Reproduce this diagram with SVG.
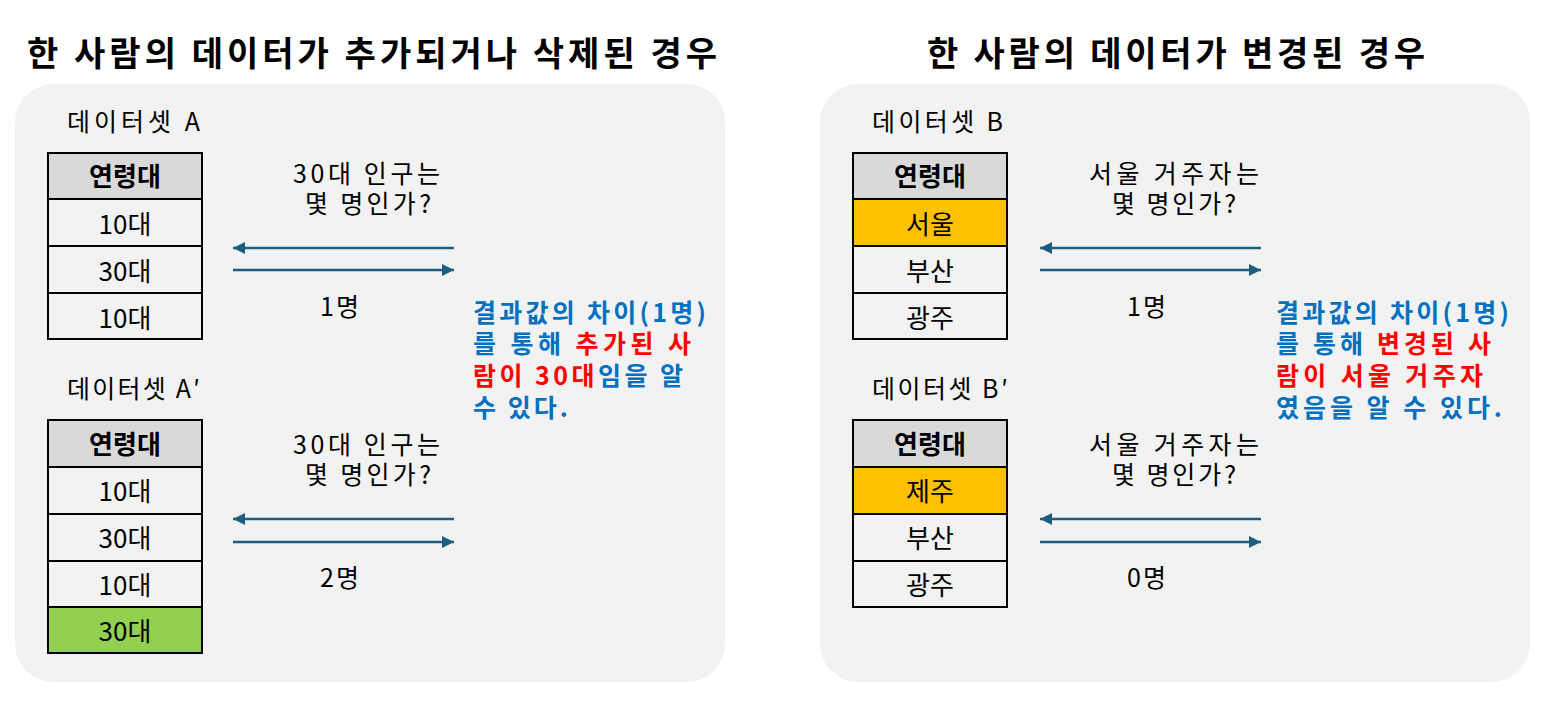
<svg xmlns="http://www.w3.org/2000/svg" width="1545" height="703" viewBox="0 0 1545 703">
<style>
text{font-family:"Noto Sans CJK KR","Noto Sans",sans-serif;fill:#000}
.title{font-size:34px;font-weight:bold}
.lbl{font-size:25px}
.cell{font-size:26px;text-anchor:middle}
.hdr{font-size:26px;font-weight:bold;text-anchor:middle}
.panel{fill:#f2f2f2}
.c{fill:#f2f2f2;stroke:#000;stroke-width:2}
.h{fill:#d9d9d9;stroke:#000;stroke-width:2}
.g{fill:#92d050;stroke:#000;stroke-width:2}
.o{fill:#ffc000;stroke:#000;stroke-width:2}
.arr{stroke:#1b5e80;stroke-width:2.5;fill:none;marker-end:url(#ah)}
.res{font-size:25px;font-weight:bold;fill:#0070c0}
.red{fill:#ff0000}
.blue{fill:#0070c0}
</style>
<defs>
<marker id="ah" markerUnits="userSpaceOnUse" markerWidth="14" markerHeight="12" refX="12" refY="6" orient="auto">
<path d="M0,0 L12,6 L0,12 z" fill="#1b5e80"/>
</marker>
</defs>
<rect width="1545" height="703" fill="#ffffff"/>
<g id="title-left"><text class="title" x="27" y="66" textLength="690" lengthAdjust="spacing">한 사람의 데이터가 추가되거나 삭제된 경우</text></g>
<g id="title-right"><text class="title" x="927" y="66" textLength="498" lengthAdjust="spacing">한 사람의 데이터가 변경된 경우</text></g>
<g id="panel-left"><rect class="panel" x="15" y="84" width="710" height="598" rx="38"/></g>
<g id="panel-right"><rect class="panel" x="820" y="84" width="710" height="598" rx="38"/></g>

<g id="dataset-A">
<text class="lbl" x="67" y="131" textLength="133" lengthAdjust="spacing">데이터셋 A</text>
<rect class="h" x="48" y="153" width="154" height="46"/>
<rect class="c" x="48" y="199" width="154" height="47"/>
<rect class="c" x="48" y="246" width="154" height="47"/>
<rect class="c" x="48" y="293" width="154" height="46"/>
<text class="hdr" x="125" y="186">연령대</text>
<text class="cell" x="125" y="234">10대</text>
<text class="cell" x="125" y="281">30대</text>
<text class="cell" x="125" y="328">10대</text>
</g>
<g id="query-A">
<text class="lbl" x="293" y="183" textLength="147" lengthAdjust="spacing">30대 인구는</text>
<text class="lbl" x="305" y="213" textLength="126" lengthAdjust="spacing">몇 명인가?</text>
<text class="lbl" x="320" y="316" textLength="39" lengthAdjust="spacing">1명</text>
</g>

<g id="dataset-A2">
<text class="lbl" x="67" y="398" textLength="133" lengthAdjust="spacing">데이터셋 A′</text>
<rect class="h" x="48" y="420" width="154" height="47"/>
<rect class="c" x="48" y="467" width="154" height="47"/>
<rect class="c" x="48" y="514" width="154" height="47"/>
<rect class="c" x="48" y="561" width="154" height="46"/>
<rect class="g" x="48" y="607" width="154" height="46"/>
<text class="hdr" x="125" y="454">연령대</text>
<text class="cell" x="125" y="501">10대</text>
<text class="cell" x="125" y="548">30대</text>
<text class="cell" x="125" y="595">10대</text>
<text class="cell" x="125" y="641">30대</text>
</g>
<g id="query-A2">
<text class="lbl" x="293" y="454" textLength="147" lengthAdjust="spacing">30대 인구는</text>
<text class="lbl" x="305" y="484" textLength="126" lengthAdjust="spacing">몇 명인가?</text>
<text class="lbl" x="320" y="587" textLength="39" lengthAdjust="spacing">2명</text>
</g>

<g id="result-left">
<text class="res" x="473" y="322" textLength="233" lengthAdjust="spacing">결과값의 차이(1명)</text>
<text class="res" x="473" y="353" textLength="218" lengthAdjust="spacing">를 통해 <tspan class="red">추가된 사</tspan></text>
<text class="res" x="473" y="385" textLength="210" lengthAdjust="spacing"><tspan class="red">람이 30대</tspan>임을 알</text>
<text class="res" x="473" y="417" textLength="95" lengthAdjust="spacing">수 있다.</text>
</g>

<g id="dataset-B">
<text class="lbl" x="872" y="131" textLength="131" lengthAdjust="spacing">데이터셋 B</text>
<rect class="h" x="853" y="153" width="154" height="46"/>
<rect class="o" x="853" y="199" width="154" height="47"/>
<rect class="c" x="853" y="246" width="154" height="47"/>
<rect class="c" x="853" y="293" width="154" height="46"/>
<text class="hdr" x="930" y="186">연령대</text>
<text class="cell" x="930" y="234">서울</text>
<text class="cell" x="930" y="281">부산</text>
<text class="cell" x="930" y="328">광주</text>
</g>
<g id="query-B">
<text class="lbl" x="1089" y="183" textLength="170" lengthAdjust="spacing">서울 거주자는</text>
<text class="lbl" x="1112" y="213" textLength="124" lengthAdjust="spacing">몇 명인가?</text>
<text class="lbl" x="1127" y="316" textLength="39" lengthAdjust="spacing">1명</text>
</g>

<g id="dataset-B2">
<text class="lbl" x="872" y="398" textLength="136" lengthAdjust="spacing">데이터셋 B′</text>
<rect class="h" x="853" y="420" width="154" height="47"/>
<rect class="o" x="853" y="467" width="154" height="47"/>
<rect class="c" x="853" y="514" width="154" height="47"/>
<rect class="c" x="853" y="561" width="154" height="46"/>
<text class="hdr" x="930" y="454">연령대</text>
<text class="cell" x="930" y="501">제주</text>
<text class="cell" x="930" y="548">부산</text>
<text class="cell" x="930" y="595">광주</text>
</g>
<g id="query-B2">
<text class="lbl" x="1089" y="454" textLength="170" lengthAdjust="spacing">서울 거주자는</text>
<text class="lbl" x="1112" y="484" textLength="124" lengthAdjust="spacing">몇 명인가?</text>
<text class="lbl" x="1127" y="587" textLength="39" lengthAdjust="spacing">0명</text>
</g>

<g id="result-right">
<text class="res" x="1276" y="322" textLength="233" lengthAdjust="spacing">결과값의 차이(1명)</text>
<text class="res" x="1276" y="353" textLength="215" lengthAdjust="spacing">를 통해 <tspan class="red">변경된 사</tspan></text>
<text class="res red" x="1276" y="385" textLength="207" lengthAdjust="spacing">람이 서울 거주자</text>
<text class="res" x="1276" y="417" textLength="226" lengthAdjust="spacing">였음을 알 수 있다.</text>
</g>

<g id="connectors">
<line class="arr" x1="454" y1="248" x2="233" y2="248"/>
<line class="arr" x1="233" y1="270" x2="454" y2="270"/>
<line class="arr" x1="454" y1="519" x2="233" y2="519"/>
<line class="arr" x1="233" y1="542" x2="454" y2="542"/>
<line class="arr" x1="1261" y1="248" x2="1040" y2="248"/>
<line class="arr" x1="1040" y1="270" x2="1261" y2="270"/>
<line class="arr" x1="1261" y1="519" x2="1040" y2="519"/>
<line class="arr" x1="1040" y1="542" x2="1261" y2="542"/>
</g>
</svg>
